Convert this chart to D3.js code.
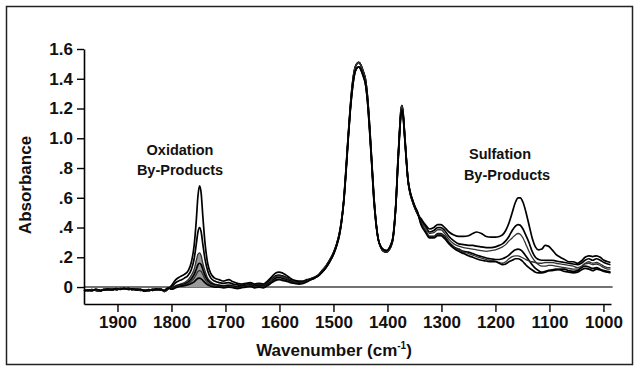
<!DOCTYPE html>
<html>
<head>
<meta charset="utf-8">
<script src="https://cdn.jsdelivr.net/npm/d3@7"></script>
<style>
  body { margin: 0; background: #fff; }
  svg { display: block; }
  text { font-family: "Liberation Sans", Arial, sans-serif; font-weight: bold; fill: #111; }
</style>
</head>
<body>
<script>
// axis ticks
var xTicks = [1900, 1800, 1700, 1600, 1500, 1400, 1300, 1200, 1100, 1000];
var yTicks = [0, 0.2, 0.4, 0.6, 0.8, 1.0, 1.2, 1.4, 1.6];
var yTickLabels = ["0", ".2", ".4", ".6", ".8", "1.0", "1.2", "1.4", "1.6"];

// baseline region, 1962 - 1806 cm-1 (two groups of traces)
var leadWn = [1962, 1955, 1948, 1940, 1932, 1925, 1918, 1910, 1902, 1895, 1888, 1880, 1872, 1865, 1858, 1850, 1842, 1835, 1828, 1820, 1813, 1806];
var leadA = [-0.02, -0.025, -0.018, -0.022, -0.028, -0.015, -0.02, -0.012, -0.018, -0.01, -0.015, -0.008, -0.018, -0.012, -0.022, -0.02, -0.025, -0.015, -0.02, -0.012, -0.03, -0.012];
var leadB = [-0.028, -0.02, -0.025, -0.015, -0.022, -0.02, -0.012, -0.02, -0.01, -0.016, -0.008, -0.016, -0.012, -0.02, -0.015, -0.028, -0.018, -0.022, -0.012, -0.02, -0.022, -0.005];

// oxidation region, one row per sample
var oxWn = [1800, 1792, 1784, 1776, 1769, 1763, 1758, 1754, 1751, 1748, 1745, 1742, 1738, 1733, 1727, 1720, 1712, 1703, 1694, 1686, 1678, 1670, 1662, 1654, 1646, 1638, 1630, 1622, 1614, 1607, 1601, 1595, 1588, 1580, 1572, 1564, 1556, 1549];
var oxVals = [
  [0.01, 0.05, 0.07, 0.085, 0.11, 0.17, 0.28, 0.45, 0.61, 0.68, 0.63, 0.48, 0.30, 0.16, 0.09, 0.06, 0.05, 0.04, 0.05, 0.035, 0.025, 0.02, 0.025, 0.03, 0.02, 0.025, 0.02, 0.04, 0.07, 0.095, 0.10, 0.095, 0.08, 0.06, 0.045, 0.04, 0.04, 0.05],
  [0.0, 0.03, 0.045, 0.06, 0.08, 0.12, 0.19, 0.29, 0.37, 0.40, 0.37, 0.29, 0.19, 0.11, 0.06, 0.04, 0.03, 0.025, 0.03, 0.02, 0.015, 0.01, 0.02, 0.025, 0.015, 0.02, 0.015, 0.03, 0.055, 0.075, 0.08, 0.075, 0.065, 0.05, 0.04, 0.035, 0.035, 0.045],
  [-0.005, 0.01, 0.02, 0.03, 0.05, 0.08, 0.12, 0.18, 0.22, 0.23, 0.21, 0.16, 0.11, 0.06, 0.035, 0.02, 0.015, 0.01, 0.015, 0.01, 0.005, 0.005, 0.015, 0.02, 0.01, 0.015, 0.01, 0.025, 0.05, 0.07, 0.075, 0.07, 0.06, 0.045, 0.035, 0.03, 0.035, 0.045],
  [-0.01, 0.005, 0.015, 0.02, 0.035, 0.055, 0.085, 0.12, 0.15, 0.16, 0.15, 0.12, 0.08, 0.045, 0.025, 0.015, 0.01, 0.005, 0.01, 0.005, 0.0, 0.005, 0.01, 0.015, 0.005, 0.01, 0.005, 0.02, 0.04, 0.06, 0.065, 0.06, 0.05, 0.04, 0.03, 0.03, 0.035, 0.045],
  [-0.01, 0.0, 0.01, 0.015, 0.025, 0.04, 0.06, 0.085, 0.105, 0.11, 0.105, 0.085, 0.055, 0.03, 0.015, 0.01, 0.005, 0.0, 0.005, 0.0, -0.005, 0.0, 0.005, 0.01, 0.0, 0.005, 0.0, 0.015, 0.035, 0.05, 0.055, 0.05, 0.045, 0.035, 0.03, 0.025, 0.03, 0.04],
  [-0.015, -0.005, 0.005, 0.01, 0.015, 0.025, 0.035, 0.05, 0.058, 0.06, 0.055, 0.045, 0.03, 0.015, 0.005, 0.0, 0.0, -0.005, 0.0, -0.005, -0.01, -0.005, 0.0, 0.005, -0.005, 0.0, -0.005, 0.01, 0.03, 0.045, 0.05, 0.045, 0.04, 0.03, 0.025, 0.02, 0.025, 0.035]
];

// CH2 / CH3 bands (two groups of traces)
var mainWn = [1542, 1535, 1528, 1521, 1514, 1507, 1500, 1494, 1489, 1485, 1481, 1477, 1473, 1469, 1465, 1461, 1457, 1453, 1449, 1445, 1441, 1437, 1433, 1429, 1425, 1421, 1417, 1412, 1407, 1402, 1397, 1393, 1390, 1387, 1384, 1381, 1378, 1375, 1373, 1371, 1368, 1365, 1362, 1358, 1354, 1349, 1344];
var mainA = [0.055, 0.065, 0.08, 0.11, 0.14, 0.18, 0.23, 0.29, 0.36, 0.45, 0.58, 0.78, 1.00, 1.20, 1.36, 1.46, 1.50, 1.51, 1.49, 1.45, 1.40, 1.28, 1.08, 0.84, 0.60, 0.43, 0.32, 0.265, 0.24, 0.235, 0.25, 0.28, 0.32, 0.42, 0.58, 0.82, 1.02, 1.19, 1.22, 1.17, 1.02, 0.86, 0.72, 0.63, 0.58, 0.53, 0.49];
var mainB = [0.05, 0.06, 0.075, 0.10, 0.13, 0.17, 0.22, 0.28, 0.35, 0.44, 0.57, 0.76, 0.98, 1.18, 1.33, 1.43, 1.47, 1.48, 1.46, 1.42, 1.37, 1.25, 1.05, 0.82, 0.58, 0.42, 0.32, 0.27, 0.25, 0.245, 0.26, 0.29, 0.33, 0.43, 0.58, 0.80, 1.00, 1.16, 1.19, 1.15, 1.00, 0.85, 0.72, 0.64, 0.59, 0.54, 0.50];

// sulfation region, one row per sample
var sulfWn = [1338, 1330, 1322, 1314, 1307, 1301, 1294, 1286, 1277, 1268, 1259, 1250, 1242, 1235, 1226, 1217, 1208, 1200, 1193, 1187, 1181, 1175, 1169, 1163, 1158, 1154, 1149, 1144, 1138, 1132, 1126, 1120, 1114, 1108, 1102, 1095, 1088, 1080, 1072, 1064, 1056, 1048, 1041, 1034, 1027, 1020, 1013, 1006, 999, 992, 987];
var sulfVals = [
  [0.46, 0.42, 0.39, 0.40, 0.42, 0.42, 0.40, 0.37, 0.35, 0.34, 0.34, 0.345, 0.36, 0.37, 0.36, 0.34, 0.335, 0.335, 0.34, 0.35, 0.38, 0.43, 0.50, 0.57, 0.60, 0.60, 0.57, 0.51, 0.42, 0.33, 0.27, 0.25, 0.255, 0.28, 0.275, 0.25, 0.22, 0.20, 0.185, 0.17, 0.17, 0.16, 0.175, 0.20, 0.21, 0.205, 0.21, 0.20, 0.18, 0.17, 0.165],
  [0.45, 0.41, 0.37, 0.38, 0.40, 0.40, 0.38, 0.34, 0.31, 0.29, 0.285, 0.28, 0.28, 0.275, 0.27, 0.265, 0.265, 0.27, 0.28, 0.29, 0.31, 0.34, 0.38, 0.41, 0.42, 0.415, 0.39, 0.35, 0.30, 0.24, 0.20, 0.185, 0.18, 0.18, 0.18, 0.18, 0.175, 0.17, 0.165, 0.16, 0.155, 0.15, 0.16, 0.18, 0.19, 0.18, 0.19, 0.18, 0.165, 0.155, 0.15],
  [0.44, 0.40, 0.36, 0.365, 0.385, 0.385, 0.36, 0.32, 0.29, 0.275, 0.265, 0.26, 0.255, 0.25, 0.245, 0.24, 0.245, 0.25, 0.26, 0.27, 0.285, 0.31, 0.33, 0.35, 0.36, 0.355, 0.33, 0.29, 0.24, 0.20, 0.17, 0.15, 0.14, 0.14, 0.145, 0.145, 0.14, 0.135, 0.13, 0.125, 0.12, 0.12, 0.13, 0.155, 0.16, 0.15, 0.155, 0.145, 0.13, 0.12, 0.12],
  [0.43, 0.38, 0.34, 0.34, 0.36, 0.36, 0.34, 0.30, 0.27, 0.255, 0.24, 0.235, 0.225, 0.215, 0.205, 0.195, 0.19, 0.185, 0.185, 0.19, 0.20, 0.215, 0.235, 0.25, 0.255, 0.25, 0.235, 0.21, 0.18, 0.15, 0.125, 0.11, 0.10, 0.105, 0.11, 0.11, 0.115, 0.12, 0.12, 0.11, 0.105, 0.11, 0.13, 0.14, 0.135, 0.125, 0.13, 0.12, 0.11, 0.105, 0.10],
  [0.43, 0.38, 0.335, 0.335, 0.355, 0.355, 0.335, 0.295, 0.265, 0.25, 0.235, 0.225, 0.215, 0.205, 0.195, 0.185, 0.18, 0.175, 0.165, 0.16, 0.17, 0.19, 0.205, 0.21, 0.21, 0.205, 0.195, 0.185, 0.175, 0.17, 0.165, 0.16, 0.16, 0.165, 0.165, 0.165, 0.16, 0.155, 0.15, 0.145, 0.14, 0.13, 0.14, 0.16, 0.17, 0.16, 0.165, 0.155, 0.14, 0.13, 0.13],
  [0.42, 0.37, 0.33, 0.33, 0.345, 0.345, 0.325, 0.29, 0.26, 0.24, 0.225, 0.21, 0.2, 0.19, 0.18, 0.175, 0.17, 0.17, 0.16, 0.15, 0.155, 0.17, 0.18, 0.19, 0.19, 0.185, 0.17, 0.15, 0.13, 0.115, 0.10, 0.095, 0.095, 0.10, 0.11, 0.115, 0.12, 0.115, 0.105, 0.10, 0.095, 0.10, 0.115, 0.125, 0.12, 0.11, 0.12, 0.115, 0.105, 0.10, 0.095]
];

// stitch the regions together for each sample
function zip(wn, vals) {
  return wn.map(function(w, i) { return { wn: w, a: vals[i] }; });
}
var spectra = oxVals.map(function(ox, i) {
  var lead = i < 3 ? leadA : leadB;
  var main = i < 3 ? mainA : mainB;
  return zip(leadWn, lead).concat(zip(oxWn, ox), zip(mainWn, main), zip(sulfWn, sulfVals[i]));
});

var w = 640, h = 370;

var xScale = d3.scaleLinear().domain([1962, 986]).range([84, 611]);
var yScale = d3.scaleLinear().domain([-0.114, 1.6]).range([304, 49]);

var svg = d3.select("body").append("svg")
  .attr("width", w)
  .attr("height", h);

// outer frame
svg.append("rect")
  .attr("x", 6.5).attr("y", 6.5)
  .attr("width", 626).attr("height", 358)
  .attr("fill", "none")
  .attr("stroke", "#222")
  .attr("stroke-width", 1.5);

// zero line
svg.append("line")
  .attr("x1", xScale(1962)).attr("x2", xScale(983))
  .attr("y1", yScale(0)).attr("y2", yScale(0))
  .attr("stroke", "#444")
  .attr("stroke-width", 1.6);

var line = d3.line()
  .x(function(d) { return xScale(d.wn); })
  .y(function(d) { return yScale(d.a); })
  .curve(d3.curveMonotoneX);

// shaded area under the small oxidation peaks
var area = d3.area()
  .x(function(d) { return xScale(d.wn); })
  .y0(yScale(0))
  .y1(function(d) { return yScale(d.a); })
  .curve(d3.curveMonotoneX);

svg.append("path")
  .datum(spectra[2].filter(function(d) { return d.wn <= 1778 && d.wn >= 1718; }))
  .attr("d", area)
  .attr("fill", "#9a9a9a");

svg.selectAll(".spectrum")
  .data(spectra)
  .enter()
  .append("path")
  .attr("class", "spectrum")
  .attr("d", line)
  .attr("fill", "none")
  .attr("stroke", function(d, i) { return (i == 2 || i == 4) ? "#333" : "#000"; })
  .attr("stroke-width", function(d, i) { return (i == 2 || i == 4) ? 1.3 : 1.7; })
  .attr("stroke-linejoin", "round");

// axes
var xAxis = svg.append("g")
  .attr("transform", "translate(0,304)")
  .call(d3.axisBottom(xScale).tickValues(xTicks).tickSize(8).tickSizeOuter(0).tickPadding(4).tickFormat(d3.format("d")));

var yAxis = svg.append("g")
  .attr("transform", "translate(84,0)")
  .call(d3.axisLeft(yScale).tickValues(yTicks).tickSize(7).tickSizeOuter(0).tickPadding(4)
    .tickFormat(function(d, i) { return yTickLabels[i]; }));

[xAxis, yAxis].forEach(function(g) {
  g.select(".domain").attr("stroke", "#000").attr("stroke-width", 1.6);
  g.selectAll(".tick line").attr("stroke", "#000").attr("stroke-width", 1.4);
  g.selectAll(".tick text")
    .attr("fill", "#111")
    .style("font-family", "'Liberation Sans', Arial, sans-serif")
    .style("font-weight", "bold")
    .style("font-size", "17px");
});

// axis titles
svg.append("text")
  .attr("transform", "translate(25,185) rotate(-90)")
  .attr("text-anchor", "middle")
  .attr("dy", "0.35em")
  .style("font-size", "17px")
  .text("Absorbance");

var xTitle = svg.append("text")
  .attr("x", 334).attr("y", 356)
  .attr("text-anchor", "middle")
  .style("font-size", "17px");
xTitle.append("tspan").text("Wavenumber (cm");
xTitle.append("tspan").attr("dy", -7).style("font-size", "10px").text("-1");
xTitle.append("tspan").attr("dy", 7).text(")");

// annotations
var notes = [
  { text: "Oxidation", x: 180, y: 155 },
  { text: "By-Products", x: 180, y: 175 },
  { text: "Sulfation", x: 500, y: 159 },
  { text: "By-Products", x: 507, y: 180 }
];
svg.selectAll(".note")
  .data(notes)
  .enter()
  .append("text")
  .attr("class", "note")
  .attr("x", function(d) { return d.x; })
  .attr("y", function(d) { return d.y; })
  .attr("text-anchor", "middle")
  .style("font-size", "14.5px")
  .text(function(d) { return d.text; });
</script>
</body>
</html>
